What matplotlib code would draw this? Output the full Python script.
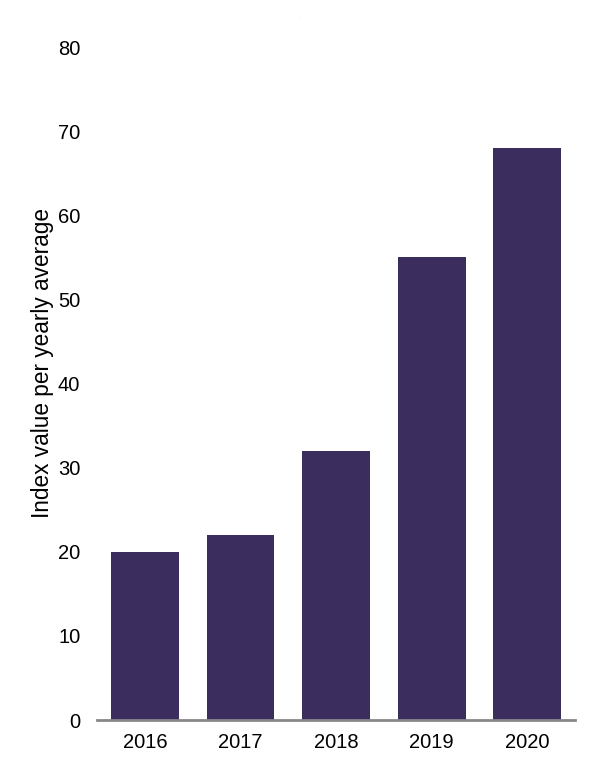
import matplotlib.pyplot as plt
import numpy as np

years = ['2016', '2017', '2018', '2019', '2020']
values = [20, 22, 32, 55, 68]
yticks = [0, 10, 20, 30, 40, 50, 60, 70, 80]

plt.rcParams['font.family'] = ['Liberation Sans', 'DejaVu Sans']

fig = plt.figure(figsize=(6, 7.7), dpi=100)
ax = fig.add_axes([0.1617, 0.0649, 0.797, 0.874])

x = np.arange(len(years))
ax.bar(x, values, width=0.71, color='#3b2e5e', zorder=2)

ax.set_xlim(-0.5, 4.5)
ax.set_ylim(0, 80)
ax.set_xticks(x)
ax.set_xticklabels(years)
ax.set_yticks(yticks)

for s in ['top', 'right', 'left']:
    ax.spines[s].set_visible(False)
ax.spines['bottom'].set_color('#888888')
ax.spines['bottom'].set_linewidth(2)
ax.spines['bottom'].set_zorder(3)

ax.tick_params(axis='both', length=0, labelsize=14.5, colors='black')
ax.tick_params(axis='y', pad=12)
ax.tick_params(axis='x', pad=9)
ax.set_ylabel('Index value per yearly average', fontsize=16.3)
ax.yaxis.set_label_coords(-0.091, 0.53)

fig.text(0.5, 0.977, '.', fontsize=3, color='#999999', ha='center')

plt.savefig('out.png', dpi=100)
